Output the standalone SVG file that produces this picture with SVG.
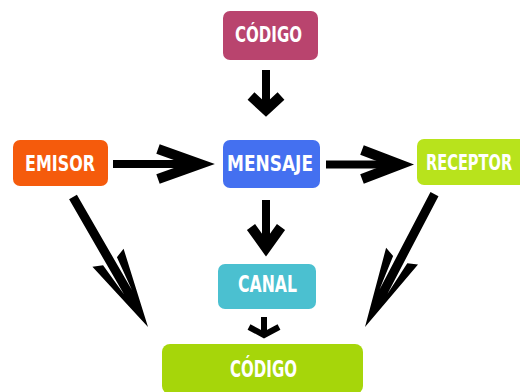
<svg xmlns="http://www.w3.org/2000/svg" width="520" height="392" viewBox="0 0 520 392">
<defs>
<style>
.lbl{font-family:"Liberation Sans Narrow","DejaVu Sans Condensed","Liberation Sans",sans-serif;font-weight:bold;fill:#ffffff;font-size:22px;text-anchor:middle}
.shaft{stroke:#000;stroke-width:8;fill:none}
.head{stroke:#000;stroke-width:10;fill:none;stroke-linejoin:miter;stroke-miterlimit:10}
</style>
<path id="dart" d="M0,0 L-80,18 L-76,8 L-40,4.5 L-150,4.5 L-150,-4.5 L-40,-4.5 L-76,-8 L-80,-18 Z" fill="#000"/>
</defs>
<rect width="520" height="392" fill="#ffffff"/>
<g id="connectors">
<line class="shaft" x1="266" y1="70" x2="266" y2="106"/>
<polyline class="head" points="251,96 266,110 281,96"/>
<line class="shaft" x1="113" y1="164" x2="196" y2="164"/>
<polyline class="head" points="158,149 200,164 158,179"/>
<line class="shaft" x1="326" y1="164.5" x2="396" y2="164.5"/>
<polyline class="head" points="362,150 400,164.5 362,179"/>
<line class="shaft" x1="266" y1="200" x2="266" y2="244"/>
<polyline class="head" points="251,227 266,248 281,227"/>
<line x1="264" y1="317" x2="264" y2="333" stroke="#000" stroke-width="6"/>
<polyline points="249,327 264,335 279,327" stroke="#000" stroke-width="6" fill="none"/>
<use href="#dart" transform="translate(148,327) rotate(60)"/>
<use href="#dart" transform="translate(365,327) rotate(117.6)"/>
</g>
<g id="codigo-top">
<rect x="223" y="11" width="95" height="49" rx="7" fill="#b9446e"/>
<text class="lbl" x="268.5" y="42" textLength="67" lengthAdjust="spacingAndGlyphs">CÓDIGO</text>
</g>
<g id="emisor">
<rect x="13" y="140" width="95" height="46" rx="7" fill="#f55b0c"/>
<text class="lbl" x="60" y="171" textLength="70" lengthAdjust="spacingAndGlyphs">EMISOR</text>
</g>
<g id="mensaje">
<rect x="223" y="140" width="97" height="48" rx="7" fill="#4470f0"/>
<text class="lbl" x="270" y="171" textLength="86" lengthAdjust="spacingAndGlyphs">MENSAJE</text>
</g>
<g id="receptor">
<path d="M424,139 H520 V185 H424 A7,7 0 0 1 417,178 V146 A7,7 0 0 1 424,139 Z" fill="#b8e31c"/>
<text class="lbl" transform="translate(426,170) scale(0.73,1)" x="0" y="0" style="text-anchor:start" textLength="118" lengthAdjust="spacingAndGlyphs">RECEPTOR</text>
</g>
<g id="canal">
<rect x="218" y="264" width="98" height="45" rx="7" fill="#4bc0d0"/>
<text class="lbl" x="267.5" y="292" style="font-size:23px" textLength="59" lengthAdjust="spacingAndGlyphs">CANAL</text>
</g>
<g id="codigo-bottom">
<rect x="162" y="344" width="201" height="50" rx="8" fill="#a6d60a"/>
<text class="lbl" x="263.5" y="377" style="font-size:23px" textLength="67" lengthAdjust="spacingAndGlyphs">CÓDIGO</text>
</g>
</svg>
